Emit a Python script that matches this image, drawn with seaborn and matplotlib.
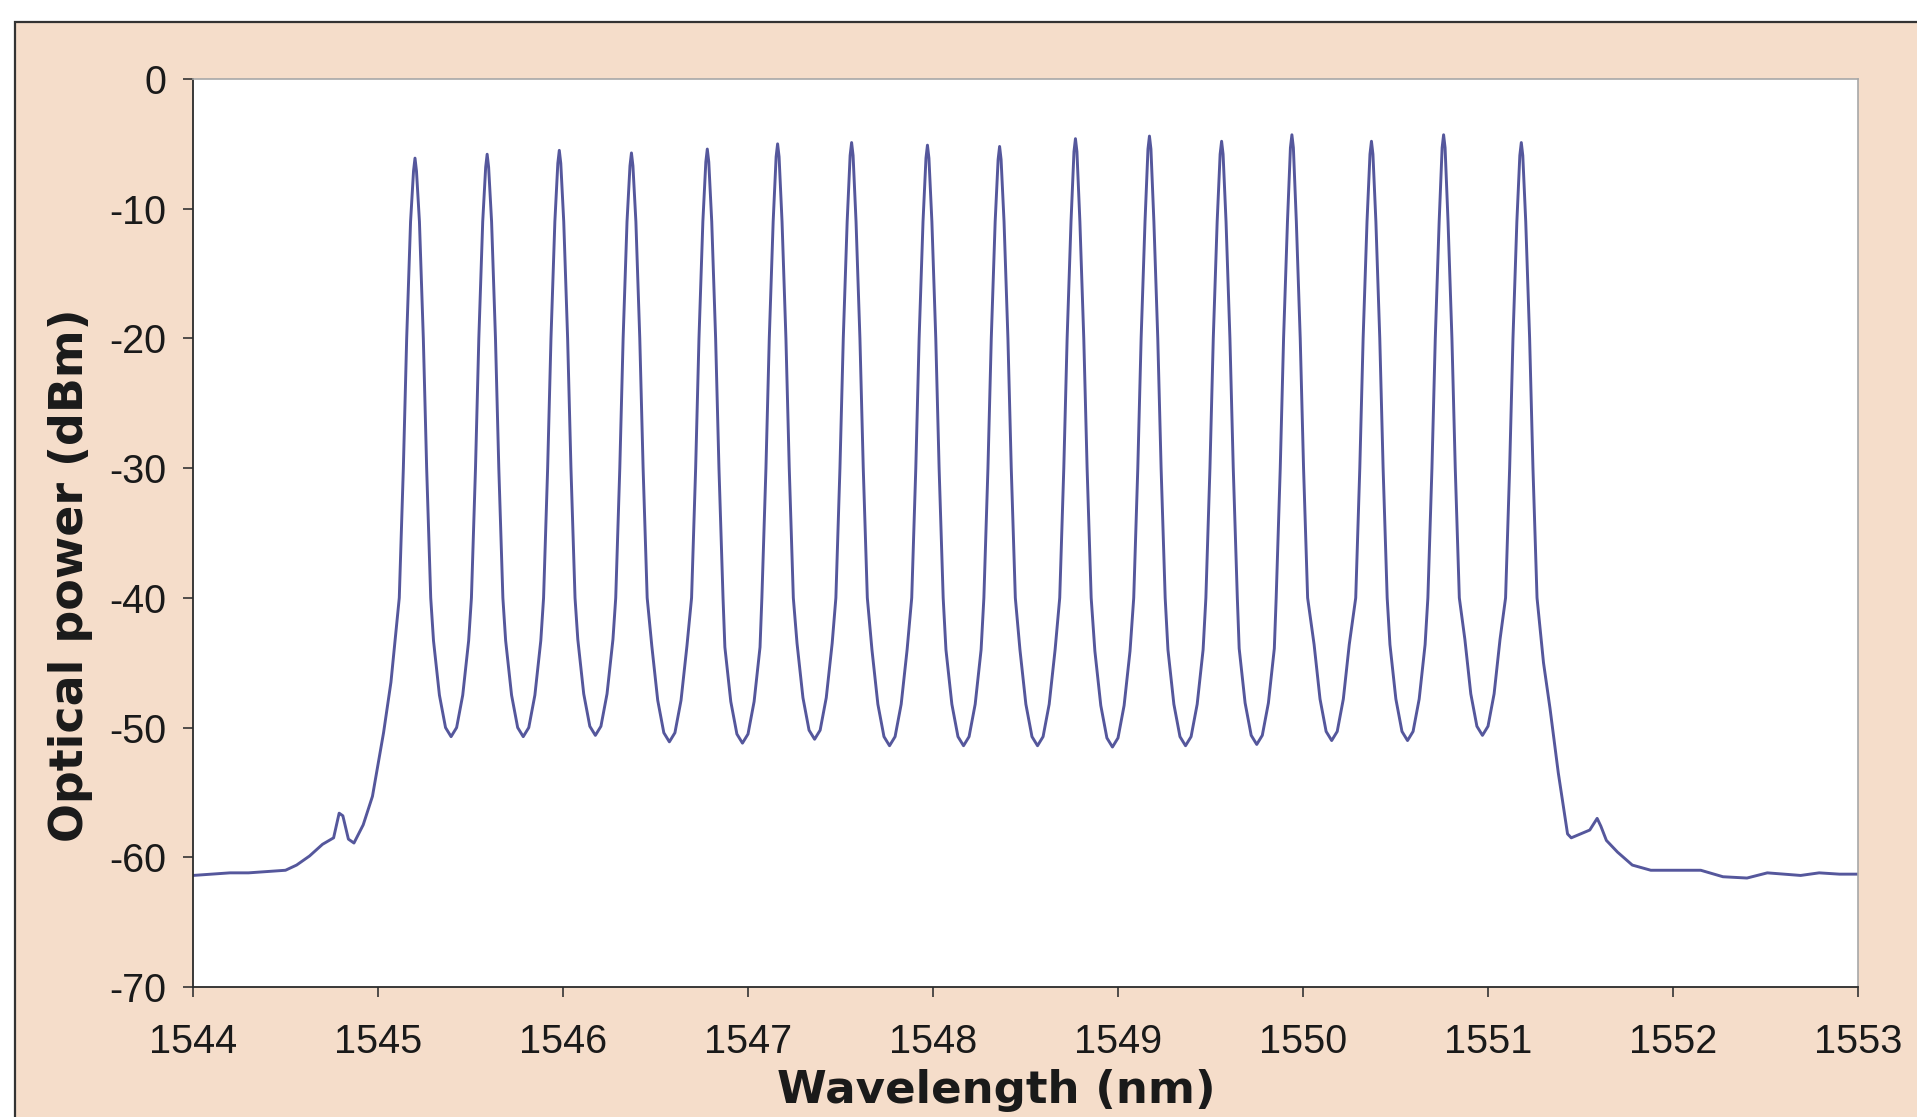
import matplotlib
matplotlib.use("Agg")
import matplotlib.pyplot as plt
from matplotlib.patches import Rectangle
import seaborn as sns
import pandas as pd

# ---------------- data ----------------
x_ticks = [1544, 1545, 1546, 1547, 1548, 1549, 1550, 1551, 1552, 1553]
y_ticks = [0, -10, -20, -30, -40, -50, -60, -70]
x_label = "Wavelength (nm)"
y_label = "Optical power (dBm)"

# left skirt of the comb
left_edge = [
    (1544.00, -61.4), (1544.10, -61.3), (1544.20, -61.2), (1544.30, -61.2),
    (1544.40, -61.1), (1544.50, -61.0), (1544.56, -60.6), (1544.63, -59.9),
    (1544.70, -59.0), (1544.76, -58.5), (1544.79, -56.6), (1544.81, -56.8),
    (1544.84, -58.6), (1544.87, -58.9), (1544.92, -57.5), (1544.97, -55.3),
    (1545.03, -50.4), (1545.07, -46.5),
]

# the 16 comb lines (peaks) and the valleys between them
comb = [
    # line 1
    (1545.115, -40), (1545.137, -30), (1545.155, -20), (1545.176, -11), (1545.192, -7.1), (1545.20, -6.1),
    (1545.208, -7.1), (1545.224, -11), (1545.245, -20), (1545.263, -30), (1545.285, -40),
    (1545.30, -43.3), (1545.332, -47.5), (1545.365, -50.0), (1545.395, -50.7), (1545.425, -50.0), (1545.458, -47.5), (1545.49, -43.3),
    # line 2
    (1545.505, -40), (1545.527, -30), (1545.545, -20), (1545.566, -11), (1545.582, -6.8), (1545.59, -5.8),
    (1545.598, -6.8), (1545.614, -11), (1545.635, -20), (1545.653, -30), (1545.675, -40),
    (1545.69, -43.3), (1545.722, -47.5), (1545.755, -50.0), (1545.785, -50.7), (1545.815, -50.0), (1545.848, -47.5), (1545.88, -43.3),
    # line 3
    (1545.895, -40), (1545.917, -30), (1545.935, -20), (1545.956, -11), (1545.972, -6.5), (1545.98, -5.5),
    (1545.988, -6.5), (1546.004, -11), (1546.025, -20), (1546.043, -30), (1546.065, -40),
    (1546.08, -43.2), (1546.112, -47.4), (1546.145, -49.9), (1546.175, -50.6), (1546.205, -49.9), (1546.238, -47.4), (1546.27, -43.2),
    # line 4
    (1546.285, -40), (1546.307, -30), (1546.325, -20), (1546.346, -11), (1546.362, -6.7), (1546.37, -5.7),
    (1546.378, -6.7), (1546.394, -11), (1546.415, -20), (1546.433, -30), (1546.455, -40),
    (1546.48, -43.7), (1546.512, -47.9), (1546.545, -50.4), (1546.575, -51.1), (1546.605, -50.4), (1546.638, -47.9), (1546.67, -43.7),
    # line 5
    (1546.695, -40), (1546.717, -30), (1546.735, -20), (1546.756, -11), (1546.772, -6.4), (1546.78, -5.4),
    (1546.788, -6.4), (1546.804, -11), (1546.825, -20), (1546.843, -30), (1546.865, -40),
    (1546.875, -43.8), (1546.907, -48.0), (1546.94, -50.5), (1546.97, -51.2), (1547.00, -50.5), (1547.033, -48.0), (1547.065, -43.8),
    # line 6
    (1547.075, -40), (1547.097, -30), (1547.115, -20), (1547.136, -11), (1547.152, -6.0), (1547.16, -5.0),
    (1547.168, -6.0), (1547.184, -11), (1547.205, -20), (1547.223, -30), (1547.245, -40),
    (1547.265, -43.5), (1547.297, -47.7), (1547.33, -50.2), (1547.36, -50.9), (1547.39, -50.2), (1547.423, -47.7), (1547.455, -43.5),
    # line 7
    (1547.475, -40), (1547.497, -30), (1547.515, -20), (1547.536, -11), (1547.552, -5.9), (1547.56, -4.9),
    (1547.568, -5.9), (1547.584, -11), (1547.605, -20), (1547.623, -30), (1547.645, -40),
    (1547.67, -44.0), (1547.702, -48.2), (1547.735, -50.7), (1547.765, -51.4), (1547.795, -50.7), (1547.828, -48.2), (1547.86, -44.0),
    # line 8
    (1547.885, -40), (1547.907, -30), (1547.925, -20), (1547.946, -11), (1547.962, -6.1), (1547.97, -5.1),
    (1547.978, -6.1), (1547.994, -11), (1548.015, -20), (1548.033, -30), (1548.055, -40),
    (1548.07, -44.0), (1548.102, -48.2), (1548.135, -50.7), (1548.165, -51.4), (1548.195, -50.7), (1548.228, -48.2), (1548.26, -44.0),
    # line 9
    (1548.275, -40), (1548.297, -30), (1548.315, -20), (1548.336, -11), (1548.352, -6.2), (1548.36, -5.2),
    (1548.368, -6.2), (1548.384, -11), (1548.405, -20), (1548.423, -30), (1548.445, -40),
    (1548.47, -44.0), (1548.502, -48.2), (1548.535, -50.7), (1548.565, -51.4), (1548.595, -50.7), (1548.628, -48.2), (1548.66, -44.0),
    # line 10
    (1548.685, -40), (1548.707, -30), (1548.725, -20), (1548.746, -11), (1548.762, -5.6), (1548.77, -4.6),
    (1548.778, -5.6), (1548.794, -11), (1548.815, -20), (1548.833, -30), (1548.855, -40),
    (1548.875, -44.1), (1548.907, -48.3), (1548.94, -50.8), (1548.97, -51.5), (1549.00, -50.8), (1549.033, -48.3), (1549.065, -44.1),
    # line 11
    (1549.085, -40), (1549.107, -30), (1549.125, -20), (1549.146, -11), (1549.162, -5.4), (1549.17, -4.4),
    (1549.178, -5.4), (1549.194, -11), (1549.215, -20), (1549.233, -30), (1549.255, -40),
    (1549.27, -44.0), (1549.302, -48.2), (1549.335, -50.7), (1549.365, -51.4), (1549.395, -50.7), (1549.428, -48.2), (1549.46, -44.0),
    # line 12
    (1549.475, -40), (1549.497, -30), (1549.515, -20), (1549.536, -11), (1549.552, -5.8), (1549.56, -4.8),
    (1549.568, -5.8), (1549.584, -11), (1549.605, -20), (1549.623, -30), (1549.645, -40),
    (1549.655, -43.9), (1549.687, -48.1), (1549.72, -50.6), (1549.75, -51.3), (1549.78, -50.6), (1549.813, -48.1), (1549.845, -43.9),
    # line 13
    (1549.855, -40), (1549.877, -30), (1549.895, -20), (1549.916, -11), (1549.932, -5.3), (1549.94, -4.3),
    (1549.948, -5.3), (1549.964, -11), (1549.985, -20), (1550.003, -30), (1550.025, -40),
    (1550.06, -43.6), (1550.092, -47.8), (1550.125, -50.3), (1550.155, -51.0), (1550.185, -50.3), (1550.218, -47.8), (1550.25, -43.6),
    # line 14
    (1550.285, -40), (1550.307, -30), (1550.325, -20), (1550.346, -11), (1550.362, -5.8), (1550.37, -4.8),
    (1550.378, -5.8), (1550.394, -11), (1550.415, -20), (1550.433, -30), (1550.455, -40),
    (1550.47, -43.6), (1550.502, -47.8), (1550.535, -50.3), (1550.565, -51.0), (1550.595, -50.3), (1550.628, -47.8), (1550.66, -43.6),
    # line 15
    (1550.675, -40), (1550.697, -30), (1550.715, -20), (1550.736, -11), (1550.752, -5.3), (1550.76, -4.3),
    (1550.768, -5.3), (1550.784, -11), (1550.805, -20), (1550.823, -30), (1550.845, -40),
    (1550.875, -43.2), (1550.907, -47.4), (1550.94, -49.9), (1550.97, -50.6), (1551.00, -49.9), (1551.033, -47.4), (1551.065, -43.2),
    # line 16
    (1551.095, -40), (1551.117, -30), (1551.135, -20), (1551.156, -11), (1551.172, -5.9), (1551.18, -4.9),
    (1551.188, -5.9), (1551.204, -11), (1551.225, -20), (1551.243, -30), (1551.265, -40),
]

# right skirt of the comb
right_edge = [
    (1551.30, -45.0), (1551.335, -48.5), (1551.38, -53.5), (1551.43, -58.2),
    (1551.45, -58.5), (1551.50, -58.2), (1551.55, -57.9), (1551.59, -57.0),
    (1551.61, -57.6), (1551.64, -58.7), (1551.70, -59.6), (1551.78, -60.6),
    (1551.88, -61.0), (1552.00, -61.0), (1552.15, -61.0), (1552.27, -61.5),
    (1552.40, -61.6), (1552.51, -61.2), (1552.60, -61.3), (1552.69, -61.4),
    (1552.79, -61.2), (1552.90, -61.3), (1553.00, -61.3),
]

points = left_edge + comb + right_edge
df = pd.DataFrame(points, columns=["wavelength", "power"])

# ---------------- style ----------------
sns.set_style("ticks")
plt.rcParams["axes.unicode_minus"] = False
plt.rcParams["font.family"] = ["Liberation Sans", "DejaVu Sans"]

W, H = 1917, 1117
fig = plt.figure(figsize=(W / 100, H / 100), dpi=100)
fig.patch.set_facecolor("white")

peach = "#F5DDCA"
frame = Rectangle((15 / W, -0.05), 1.2, 1 - 22 / H + 0.05, transform=fig.transFigure,
                  facecolor=peach, edgecolor="#333333", linewidth=1.6, zorder=-5)
fig.patches.append(frame)

L, R, T, B = 193, 1858, 79, 987
ax = fig.add_axes([L / W, 1 - B / H, (R - L) / W, (B - T) / H])
ax.set_zorder(2)
ax.set_facecolor("white")

sns.lineplot(data=df, x="wavelength", y="power", ax=ax, estimator=None, sort=False,
             color="#55579c", linewidth=2.1)

ax.set_xlim(1544, 1553)
ax.set_ylim(-70, 0)
ax.set_xticks(x_ticks)
ax.set_xticklabels([str(t) for t in x_ticks])
ax.set_yticks(y_ticks)
ax.set_yticklabels([str(t) for t in y_ticks])

ax.tick_params(axis="both", direction="out", length=7, width=1.2, colors="#333333",
               labelcolor="#1a1a1a", labelsize=28.5)
ax.tick_params(axis="x", pad=19)
ax.tick_params(axis="y", pad=12)

for s in ["left", "bottom"]:
    ax.spines[s].set_color("#2a2a2a")
    ax.spines[s].set_linewidth(1.3)
for s in ["top", "right"]:
    ax.spines[s].set_visible(True)
    ax.spines[s].set_color("#a8a8a8")
    ax.spines[s].set_linewidth(1.2)

ax.set_xlabel(x_label, fontsize=32.5, fontweight="bold", family="DejaVu Sans", color="#1a1a1a")
ax.set_ylabel(y_label, fontsize=33, fontweight="bold", family="DejaVu Sans", color="#1a1a1a")
ax.xaxis.label.set_va("center")
ax.xaxis.set_label_coords((996 - L) / (R - L), (B - 1091) / (B - T))
ax.yaxis.label.set_va("center")
ax.yaxis.set_label_coords((71 - L) / (R - L), (B - 575) / (B - T))

fig.savefig("out.png", dpi=100, facecolor=fig.get_facecolor())
